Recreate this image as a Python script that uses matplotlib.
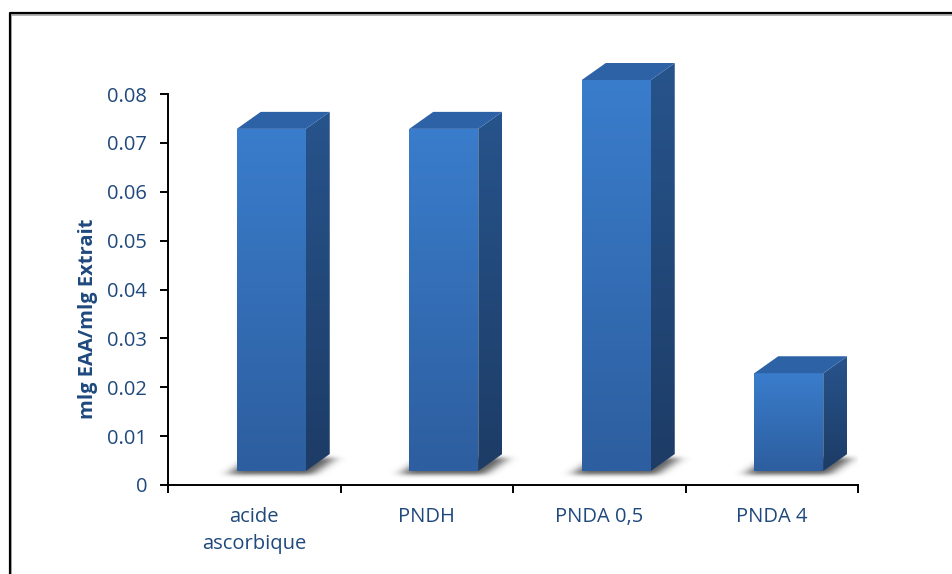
import numpy as np
import matplotlib
matplotlib.use("Agg")
import matplotlib.pyplot as plt
from matplotlib.patches import Polygon
from matplotlib.lines import Line2D
from matplotlib.colors import LinearSegmentedColormap

# ---- data ----
categories = ["acide\nascorbique", "PNDH", "PNDA 0,5", "PNDA 4"]
values = [0.07, 0.07, 0.08, 0.02]
yticks = [0, 0.01, 0.02, 0.03, 0.04, 0.05, 0.06, 0.07, 0.08]
ytick_labels = ["0", "0.01", "0.02", "0.03", "0.04", "0.05", "0.06", "0.07", "0.08"]
ylabel = "mlg EAA/mlg Extrait"

text_color = "#1f497d"
font = "Open Sans"

W, H = 952, 574
fig = plt.figure(figsize=(W / 100, H / 100), dpi=100)
fig.patch.set_facecolor("white")

ax = fig.add_axes([168 / W, 89 / H, 690 / W, 391 / H])
ax.set_xlim(-0.5, len(categories) - 0.5)
ax.set_ylim(0, 0.08)
ax.patch.set_alpha(0)

# pixel -> data scale factors for the 3D look
sx = 690 / (len(categories))          # px per category unit
sy = 391 / 0.08                        # px per value unit
front_dx, front_dy = 17 / sx, 14 / sy  # front face lifted off the floor
depth_dx, depth_dy = 24 / sx, 17 / sy  # depth of the box
half_w = 0.2

front_cmap = LinearSegmentedColormap.from_list("front", ["#2d5e9f", "#3a7dcc"])
side_cmap = LinearSegmentedColormap.from_list("side", ["#1d3c66", "#27548c"])
top_color = "#2d62a7"

# soft floor shadow, rendered as a blurred image
img_y0, img_y1 = -0.0005, 0.0085
nx, ny = 700, 48
gx = np.linspace(-0.5, len(categories) - 0.5, nx)
gy = np.linspace(img_y0, img_y1, ny)
XX, YY = np.meshgrid(gx, gy)
mask = np.zeros_like(XX)
for i, v in enumerate(values):
    x0 = i - half_w + front_dx - 10 / sx
    x1 = i + half_w + front_dx + 6 / sx
    yb = front_dy - 4 / sy
    # parallelogram footprint of the box on the floor
    t = (YY - yb) / depth_dy
    inside = (t >= 0) & (t <= 1) & (XX >= x0 + t * depth_dx) & (XX <= x1 + t * depth_dx)
    mask[inside] = 1.0


def blur1d(a, sigma, axis):
    r = int(3 * sigma)
    k = np.exp(-0.5 * (np.arange(-r, r + 1) / sigma) ** 2)
    k /= k.sum()
    return np.apply_along_axis(lambda m: np.convolve(m, k, mode="same"), axis, a)


px_per_cell_x = 690 / nx
px_per_cell_y = (img_y1 - img_y0) * sy / ny
mask = blur1d(mask, 6 / px_per_cell_x, 1)
mask = blur1d(mask, 2 / px_per_cell_y, 0)
shadow = np.zeros((ny, nx, 4))
shadow[..., :3] = 0.3
shadow[..., 3] = np.clip(mask * 0.9, 0, 1)
ax.imshow(shadow, extent=(gx[0], gx[-1], img_y0, img_y1), origin="lower",
          aspect="auto", interpolation="bilinear", zorder=1)


def clip_image(im, patch):
    # allow the box to rise above the plot area, but keep its outline
    im.set_clip_on(True)
    im.set_clip_box(fig.bbox)
    im.set_clip_path(patch)


grad = np.linspace(0, 1, 256).reshape(-1, 1)
for i, v in enumerate(values):
    fl = i - half_w + front_dx
    fr = i + half_w + front_dx
    fb = front_dy
    ft = v + front_dy
    # front face
    front = Polygon([(fl, fb), (fr, fb), (fr, ft), (fl, ft)], closed=True,
                    facecolor="none", edgecolor="none", zorder=3, clip_on=False)
    ax.add_patch(front)
    im = ax.imshow(grad, extent=(fl, fr, fb, ft), origin="lower", cmap=front_cmap,
                   aspect="auto", zorder=3)
    clip_image(im, front)
    # side face
    side_pts = [(fr, fb), (fr + depth_dx, fb + depth_dy),
                (fr + depth_dx, ft + depth_dy), (fr, ft)]
    side = Polygon(side_pts, closed=True, facecolor="none", edgecolor="none",
                   zorder=3, clip_on=False)
    ax.add_patch(side)
    im2 = ax.imshow(grad, extent=(fr, fr + depth_dx, fb, ft + depth_dy), origin="lower",
                    cmap=side_cmap, aspect="auto", zorder=3)
    clip_image(im2, side)
    # top face
    top = Polygon([(fl, ft), (fr, ft), (fr + depth_dx, ft + depth_dy),
                   (fl + depth_dx, ft + depth_dy)], closed=True,
                  facecolor=top_color, edgecolor="none", zorder=3, clip_on=False)
    ax.add_patch(top)

ax.set_xlim(-0.5, len(categories) - 0.5)
ax.set_ylim(0, 0.08)

# axes styling
for s in ["top", "right"]:
    ax.spines[s].set_visible(False)
for s in ["left", "bottom"]:
    ax.spines[s].set_linewidth(1.4)
    ax.spines[s].set_color("black")

ax.set_yticks(yticks)
ax.set_yticklabels(ytick_labels, fontfamily=font, fontsize=14.5, color=text_color)
ax.tick_params(axis="y", direction="out", length=6, width=1.4, pad=9)

ax.set_xticks(range(len(categories)))
ax.set_xticklabels(categories, fontfamily=font, fontsize=14.5, color=text_color,
                   linespacing=1.45)
ax.tick_params(axis="x", which="major", length=0, pad=16)
ax.set_xticks(np.arange(-0.5, len(categories), 1.0), minor=True)
ax.tick_params(axis="x", which="minor", direction="out", length=6, width=1.4)

fig.text(88 / W, 1 - 319 / H, ylabel, rotation=90, ha="center", va="center",
         fontfamily=font, fontweight="bold", fontsize=14.5, color=text_color)

# chart-area frame running off the canvas
fx, fy = 9.5 / W, 1 - 13 / H
fig.add_artist(Line2D([fx + 2 / W, fx + 2 / W, 1.01], [-0.01, fy - 2 / H, fy - 2 / H],
                      transform=fig.transFigure, color="#b0b0b0", lw=1.4))
fig.add_artist(Line2D([fx, fx, 1.01], [-0.01, fy, fy], transform=fig.transFigure,
                      color="black", lw=1.6))

fig.savefig("out.png", dpi=100)
